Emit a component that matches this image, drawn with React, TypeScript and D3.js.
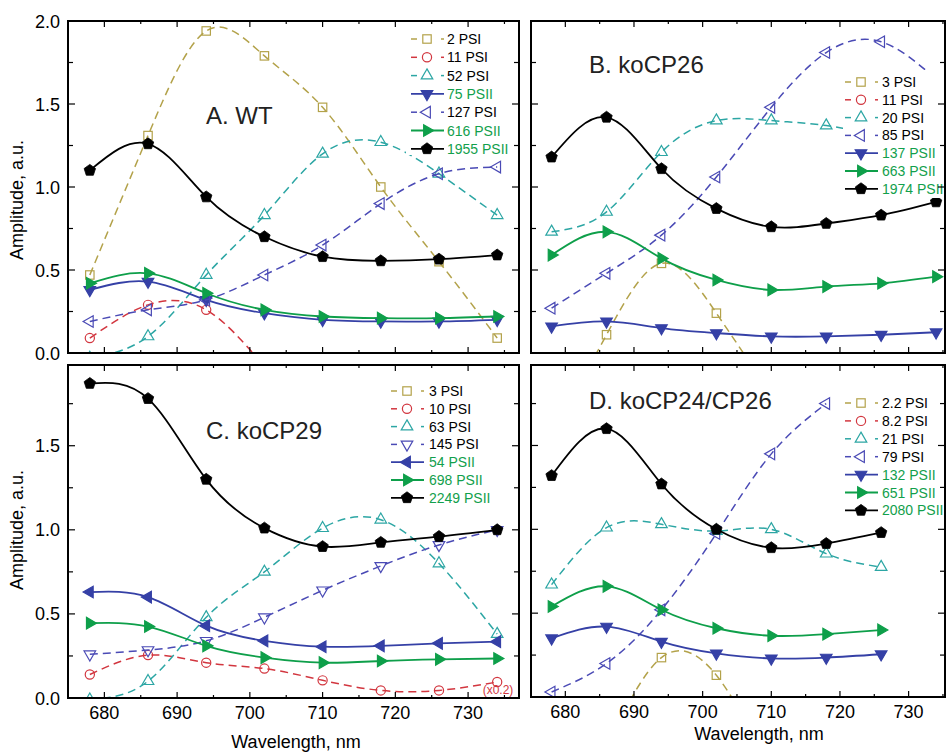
import React from 'react';
import * as d3 from 'd3';

// ---------- DATA ----------
const WL = [678, 686, 694, 702, 710, 718, 726, 734];
const WL_D = [678, 686, 694, 702, 710, 718, 726];
const X_TICK_LABELS = [680, 690, 700, 710, 720, 730];

// Panel A. WT
const A_LABELS = ['2 PSI', '11 PSI', '52 PSI', '75 PSII', '127 PSI', '616 PSII', '1955 PSII'];
const A_PSI2 = [0.47, 1.31, 1.94, 1.79, 1.48, 1.0, 0.55, 0.09];
const A_PSI11 = [0.09, 0.29, 0.26, -0.08, null, null, null, null];
const A_PSI52 = [-0.03, 0.1, 0.47, 0.83, 1.2, 1.27, 1.08, 0.83];
const A_PSII75 = [0.38, 0.43, 0.32, 0.24, 0.2, 0.19, 0.19, 0.2];
const A_PSI127 = [0.19, 0.26, 0.32, 0.47, 0.65, 0.9, 1.08, 1.12];
const A_PSII616 = [0.42, 0.48, 0.36, 0.26, 0.22, 0.21, 0.21, 0.22];
const A_PSII1955 = [1.1, 1.26, 0.94, 0.7, 0.58, 0.555, 0.565, 0.59];

// Panel B. koCP26
const B_LABELS = ['3 PSI', '11 PSI', '20 PSI', '85 PSI', '137 PSII', '663 PSII', '1974 PSII'];
const B_PSI3 = [-0.5, 0.11, 0.54, 0.24, -0.25, null, null, null];
const B_PSI11: (number | null)[] = [];
const B_PSI20 = [0.73, 0.85, 1.21, 1.4, 1.4, 1.37, 1.3, 1.2];
const B_PSI85 = [0.27, 0.48, 0.71, 1.06, 1.48, 1.81, 1.875, 1.65];
const B_PSII137 = [0.16, 0.19, 0.15, 0.12, 0.1, 0.1, 0.11, 0.125];
const B_PSII663 = [0.59, 0.73, 0.57, 0.44, 0.38, 0.4, 0.42, 0.46];
const B_PSII1974 = [1.18, 1.42, 1.11, 0.87, 0.76, 0.78, 0.83, 0.91];

// Panel C. koCP29
const C_LABELS = ['3 PSI', '10 PSI', '63 PSI', '145 PSI', '54 PSII', '698 PSII', '2249 PSII'];
const C_PSI3: (number | null)[] = [];
const C_PSI10 = [0.14, 0.255, 0.21, 0.175, 0.105, 0.045, 0.045, 0.095];
const C_PSI63 = [-0.01, 0.1, 0.48, 0.75, 1.01, 1.06, 0.8, 0.38];
const C_PSI145 = [0.26, 0.285, 0.34, 0.48, 0.64, 0.785, 0.91, 1.0];
const C_PSII54 = [0.63, 0.6, 0.43, 0.34, 0.305, 0.31, 0.325, 0.335];
const C_PSII698 = [0.445, 0.425, 0.31, 0.24, 0.21, 0.22, 0.23, 0.235];
const C_PSII2249 = [1.87, 1.78, 1.3, 1.01, 0.9, 0.925, 0.96, 1.0];

// Panel D. koCP24/CP26
const D_LABELS = ['2.2 PSI', '8.2 PSI', '21 PSI', '79 PSI', '132 PSII', '651 PSII', '2080 PSII'];
const D_PSI22 = [null, -0.3, 0.235, 0.13, -0.45, null, null];
const D_PSI82: (number | null)[] = [];
const D_PSI21 = [0.67, 1.01, 1.03, 0.99, 1.0, 0.855, 0.775];
const D_PSI79 = [0.03, 0.2, 0.52, 0.975, 1.45, 1.75, null];
const D_PSII132 = [0.35, 0.42, 0.33, 0.26, 0.23, 0.235, 0.255];
const D_PSII651 = [0.54, 0.66, 0.52, 0.41, 0.365, 0.375, 0.4];
const D_PSII2080 = [1.32, 1.6, 1.27, 1.0, 0.89, 0.915, 0.98];

// ---------- STYLE ----------
const OLIVE = '#B3A24A';
const RED = '#D2363F';
const TEAL = '#2CA6A4';
const PURPLE = '#4A4AB5';
const BLUE = '#3540A6';
const GREEN = '#0E9F4A';
const BLACK = '#000000';
const GREEN_TEXT = '#12A04C';
const FONT = 'Liberation Sans, Arial, Helvetica, sans-serif';

type Series = {
  label: string;
  values: (number | null)[];
  color: string;
  dashed: boolean;
  marker: string;
};

type Panel = {
  id: string;
  left: number; right: number; top: number; bottom: number;
  xDomain: [number, number];
  yDomain: [number, number];
  wl: number[];
  series: Series[];
  title: string; titleX: number; titleY: number;
  legMX: number; legTX: number; legY0: number; legDy: number;
  legBox: [number, number, number, number];
  xLabels: boolean;
  yLabels: boolean;
  yTitleY?: number;
  xTitle?: [number, number];
  note?: [string, number, number];
};

function mk(labels: string[], vals: (number | null)[][], markers: string[]): Series[] {
  const colors = [OLIVE, RED, TEAL, null, null, GREEN, BLACK];
  return labels.map((label, i) => {
    const psii = label.includes('PSII');
    let color = colors[i] as string | null;
    if (!color) color = psii ? BLUE : PURPLE;
    return { label, values: vals[i], color, dashed: !psii, marker: markers[i] };
  });
}

const panels: Panel[] = [
  {
    id: 'A', left: 68, right: 519, top: 21, bottom: 353,
    xDomain: [675, 737], yDomain: [0, 2.0], wl: WL,
    series: mk(A_LABELS, [A_PSI2, A_PSI11, A_PSI52, A_PSII75, A_PSI127, A_PSII616, A_PSII1955],
      ['square', 'circle', 'up', 'downF', 'left', 'rightF', 'pent']),
    title: 'A. WT', titleX: 206, titleY: 124,
    legMX: 427, legTX: 447, legY0: 39, legDy: 18.3, legBox: [406, 29, 112, 126],
    xLabels: false, yLabels: true, yTitleY: 200,
  },
  {
    id: 'B', left: 531, right: 945, top: 21, bottom: 353,
    xDomain: [675, 735.3], yDomain: [0, 2.0], wl: WL,
    series: mk(B_LABELS, [B_PSI3, B_PSI11, B_PSI20, B_PSI85, B_PSII137, B_PSII663, B_PSII1974],
      ['square', 'circle', 'up', 'left', 'downF', 'rightF', 'pent']),
    title: 'B. koCP26', titleX: 589, titleY: 73,
    legMX: 861, legTX: 882, legY0: 82, legDy: 17.8, legBox: [843, 70, 101, 128],
    xLabels: false, yLabels: false,
  },
  {
    id: 'C', left: 68, right: 519, top: 365, bottom: 698,
    xDomain: [675, 737], yDomain: [0, 1.98], wl: WL,
    series: mk(C_LABELS, [C_PSI3, C_PSI10, C_PSI63, C_PSI145, C_PSII54, C_PSII698, C_PSII2249],
      ['square', 'circle', 'up', 'down', 'leftF', 'rightF', 'pent']),
    title: 'C. koCP29', titleX: 206, titleY: 439,
    legMX: 407, legTX: 429, legY0: 391, legDy: 17.8, legBox: [392, 380, 126, 126],
    xLabels: true, yLabels: true, yTitleY: 530, xTitle: [296, 748],
    note: ['(x0.2)', 498, 694],
  },
  {
    id: 'D', left: 531, right: 945, top: 365, bottom: 697,
    xDomain: [675, 735.3], yDomain: [0, 1.98], wl: WL_D,
    series: mk(D_LABELS, [D_PSI22, D_PSI82, D_PSI21, D_PSI79, D_PSII132, D_PSII651, D_PSII2080],
      ['square', 'circle', 'up', 'left', 'downF', 'rightF', 'pent']),
    title: 'D. koCP24/CP26', titleX: 589, titleY: 409,
    legMX: 861, legTX: 882, legY0: 403, legDy: 17.9, legBox: [843, 392, 101, 128],
    xLabels: true, yLabels: false, xTitle: [759, 740],
  },
];

function pentagonPath(r: number) {
  const pts = d3.range(5).map((k) => {
    const a = (-90 + k * 72) * Math.PI / 180;
    return [r * Math.cos(a), r * Math.sin(a)];
  });
  return 'M' + pts.map((p) => p.join(',')).join('L') + 'Z';
}

const triPath = d3.symbol(d3.symbolTriangle, 58)() as string;

function Marker({ type, x, y, color }: { type: string; x: number; y: number; color: string }) {
  const filled = type.endsWith('F') || type === 'pent';
  const fill = filled ? color : 'none';
  const sw = 1.2;
  const base = type.replace('F', '');
  if (type === 'square') {
    return <rect x={x - 4.2} y={y - 4.2} width={8.4} height={8.4} fill="none" stroke={color} strokeWidth={sw} />;
  }
  if (type === 'circle') {
    return <circle cx={x} cy={y} r={4.6} fill="none" stroke={color} strokeWidth={sw} />;
  }
  if (type === 'pent') {
    return <path d={pentagonPath(6)} transform={`translate(${x},${y})`} fill={color} stroke={color} strokeWidth={0.8} />;
  }
  const rot = base === 'up' ? 0 : base === 'down' ? 180 : base === 'left' ? -90 : 90;
  return <path d={triPath} transform={`translate(${x},${y}) rotate(${rot})`} fill={fill} stroke={color} strokeWidth={sw} strokeLinejoin="miter" />;
}

function PanelView({ p }: { p: Panel }) {
  const xs = d3.scaleLinear().domain(p.xDomain).range([p.left, p.right]);
  const ys = d3.scaleLinear().domain(p.yDomain).range([p.bottom, p.top]);
  const line = d3.line<[number, number]>().x((d) => xs(d[0])).y((d) => ys(d[1])).curve(d3.curveNatural);
  const clipId = 'clip' + p.id;

  const xTicks = d3.range(675, p.xDomain[1] + 0.01, 5);
  const yTicks = d3.range(0, p.yDomain[1] + 0.001, 0.25);
  const fmt = d3.format('.1f');

  return (
    <g>
      <defs>
        <clipPath id={clipId}>
          <rect x={p.left} y={p.top} width={p.right - p.left} height={p.bottom - p.top} />
        </clipPath>
      </defs>
      <g clipPath={`url(#${clipId})`}>
        {p.series.map((s, i) => {
          const pts: [number, number][] = [];
          s.values.forEach((v, j) => {
            if (v !== null && v !== undefined && j < p.wl.length) pts.push([p.wl[j], v]);
          });
          if (pts.length < 2) return null;
          return (
            <g key={i}>
              <path d={line(pts) as string} fill="none" stroke={s.color}
                strokeWidth={s.dashed ? 1.5 : 1.8}
                strokeDasharray={s.dashed ? '8,5' : undefined} />
              {pts.map((d, k) => (
                <Marker key={k} type={s.marker} x={xs(d[0])} y={ys(d[1])} color={s.color} />
              ))}
            </g>
          );
        })}
      </g>
      {/* legend */}
      <rect x={p.legBox[0]} y={p.legBox[1]} width={p.legBox[2]} height={p.legBox[3]} fill="#fff" />
      {p.series.map((s, i) => {
        const y = p.legY0 + i * p.legDy;
        const psii = !s.dashed;
        return (
          <g key={'l' + i}>
            {psii ? (
              <line x1={p.legMX - 16} x2={p.legMX + 17} y1={y} y2={y} stroke={s.color} strokeWidth={1.8} />
            ) : (
              <g>
                <line x1={p.legMX - 16} x2={p.legMX - 10} y1={y} y2={y} stroke={s.color} strokeWidth={1.5} />
                <line x1={p.legMX + 14} x2={p.legMX + 17} y1={y} y2={y} stroke={s.color} strokeWidth={1.5} />
              </g>
            )}
            <Marker type={s.marker} x={p.legMX} y={y} color={s.color} />
            <text x={p.legTX} y={y + 5} fontSize={14} fontFamily={FONT} fill={psii ? GREEN_TEXT : '#000'}>{s.label}</text>
          </g>
        );
      })}
      {p.note && (
        <text x={p.note[1]} y={p.note[2]} fontSize={12} fontFamily={FONT} fill={RED} textAnchor="middle">{p.note[0]}</text>
      )}
      {/* ticks */}
      {xTicks.map((t, i) => {
        const major = Math.abs(t % 10) < 0.01;
        const len = major ? 6 : 3;
        const x = xs(t);
        return (
          <g key={'xt' + i}>
            <line x1={x} x2={x} y1={p.bottom} y2={p.bottom - len} stroke="#000" strokeWidth={1.2} />
            <line x1={x} x2={x} y1={p.top} y2={p.top + len} stroke="#000" strokeWidth={1.2} />
          </g>
        );
      })}
      {yTicks.map((t, i) => {
        const major = Math.abs((t * 2) - Math.round(t * 2)) < 0.001;
        const len = major ? 7 : 5;
        const y = ys(t);
        return (
          <g key={'yt' + i}>
            <line x1={p.left} x2={p.left + len} y1={y} y2={y} stroke="#000" strokeWidth={1.2} />
            <line x1={p.right} x2={p.right - len} y1={y} y2={y} stroke="#000" strokeWidth={1.2} />
          </g>
        );
      })}
      <rect x={p.left} y={p.top} width={p.right - p.left} height={p.bottom - p.top} fill="none" stroke="#000" strokeWidth={2} />
      {p.xLabels && X_TICK_LABELS.map((t) => (
        <text key={'xl' + t} x={xs(t)} y={p.bottom + 21} fontSize={18} fontFamily={FONT} textAnchor="middle" fill="#000">{t}</text>
      ))}
      {p.yLabels && yTicks.filter((t) => Math.abs(t * 2 - Math.round(t * 2)) < 0.001).map((t) => (
        <text key={'yl' + t} x={p.left - 8} y={ys(t) + 6.5} fontSize={18} fontFamily={FONT} textAnchor="end" fill="#000">{fmt(t)}</text>
      ))}
      {p.yTitleY !== undefined && (
        <text transform={`translate(23,${p.yTitleY}) rotate(-90)`} fontSize={18} fontFamily={FONT} textAnchor="middle" fill="#000">Amplitude, a.u.</text>
      )}
      {p.xTitle && (
        <text x={p.xTitle[0]} y={p.xTitle[1]} fontSize={18} fontFamily={FONT} textAnchor="middle" fill="#000">Wavelength, nm</text>
      )}
      <text x={p.titleX} y={p.titleY} fontSize={24} fontFamily={FONT} fill="#222">{p.title}</text>
    </g>
  );
}

export default function App() {
  return (
    <svg width={947} height={752} viewBox="0 0 947 752"
      style={{ position: 'absolute', left: 0, top: 0, background: '#fff' }}>
      <rect x={0} y={0} width={947} height={752} fill="#fff" />
      {panels.map((p) => <PanelView key={p.id} p={p} />)}
    </svg>
  );
}
